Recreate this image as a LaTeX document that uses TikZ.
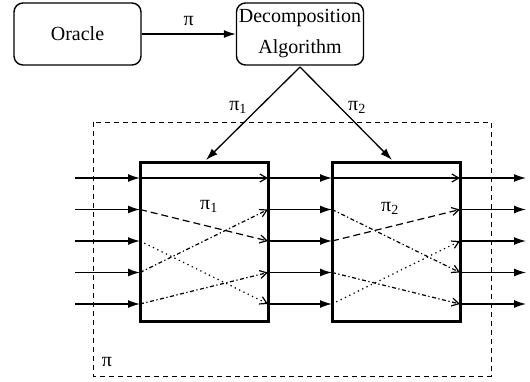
\documentclass[tikz,border=0pt]{standalone}
\usepackage{fontspec}
\setmainfont{Liberation Serif}
\usetikzlibrary{arrows.meta}
\begin{document}
\begin{tikzpicture}[x=1pt,y=-1pt,
  rbox/.style={draw,line width=1.4pt,rounded corners=9pt,inner sep=0pt,minimum width=127pt,minimum height=62pt,align=center,font={\fontsize{20}{31}\selectfont}},
  pbox/.style={draw,line width=3pt,inner sep=0pt,minimum width=128pt,minimum height=159pt},
  lbl/.style={font={\fontsize{20}{24}\selectfont},inner sep=0pt},
  outer/.style={line width=1.3pt,-{Latex[length=12pt,width=8pt]}},
  inner/.style={line width=1.2pt,-{Straight Barb[length=7pt,width=8pt]}},
  dsh/.style={dash pattern=on 7pt off 4pt},
  dtt/.style={dash pattern=on 1.3pt off 3.5pt},
  dd/.style={dash pattern=on 4pt off 2.5pt on 1.3pt off 2.5pt}
]
\useasboundingbox (0,0) rectangle (530,381);
\node[rbox] (oracle) at (77.5,34) {Oracle};
\node[rbox] (decomp) at (300,34) {Decomposition\\Algorithm};
\draw[outer] (oracle) -- (decomp) node[lbl,midway,above=8pt] (pi0) {π};
\draw[line width=1pt,dash pattern=on 5pt off 4pt] (93,122) rectangle (491,376);
\node[lbl] (pib) at (107,362) {π};
\node[pbox] (b1) at (204,241.5) {};
\node[pbox] (b2) at (396,241.5) {};
\node[lbl] (pi1in) at (209,206) {π\textsubscript{1}};
\node[lbl] (pi2in) at (390,208) {π\textsubscript{2}};
\coordinate (top) at (300,67);
\coordinate (t1) at (206,160);
\coordinate (t2) at (392,160);
\draw[outer] (top) -- (t1) node[lbl,pos=0.43,left=12pt] (pi1) {π\textsubscript{1}};
\draw[outer] (top) -- (t2) node[lbl,pos=0.43,right=8pt] (pi2) {π\textsubscript{2}};
\foreach \k/\y in {1/178,2/209.5,3/241,4/272.5,5/304}{
  \coordinate (in\k) at (75,\y);
  \coordinate (l1\k) at (140,\y);
  \coordinate (r1\k) at (268,\y);
  \coordinate (l2\k) at (332,\y);
  \coordinate (r2\k) at (460,\y);
  \coordinate (out\k) at (526,\y);
  \draw[outer] (in\k) -- (l1\k);
  \draw[outer] (r1\k) -- (l2\k);
  \draw[outer] (r2\k) -- (out\k);
}
% box 1 permutation
\draw[inner] (l11) -- (r11);
\draw[inner,dsh] (l12) -- (r13);
\draw[inner,dtt] (l13) -- (r15);
\draw[inner,dd] (l14) -- (r12);
\draw[inner,dd] (l15) -- (r14);
% box 2 permutation
\draw[inner] (l21) -- (r21);
\draw[inner,dd] (l22) -- (r24);
\draw[inner,dsh] (l23) -- (r22);
\draw[inner,dd] (l24) -- (r25);
\draw[inner,dtt] (l25) -- (r23);
\end{tikzpicture}
\end{document}
